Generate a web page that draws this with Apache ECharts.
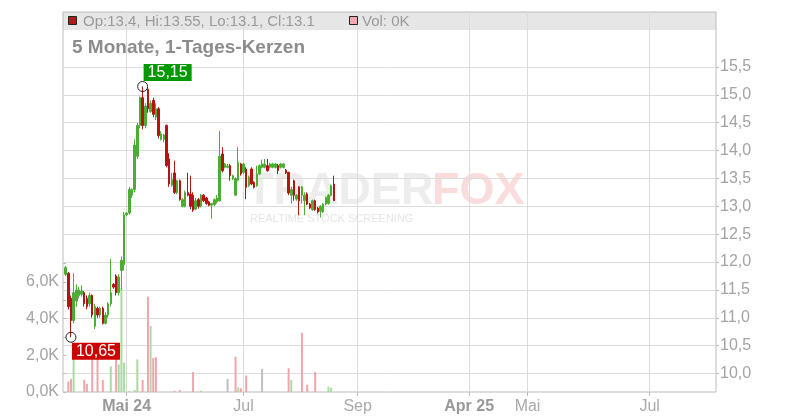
<!DOCTYPE html>
<html><head><meta charset="utf-8">
<script src="https://cdn.jsdelivr.net/npm/echarts@6/dist/echarts.min.js"></script>
<style>html,body{margin:0;padding:0;background:#fff}#c{width:800px;height:420px}</style>
</head><body><div id="c"></div>
<script>
// ---- data ----
const categoryCount = 247;                       // trading-day slots on the x axis
const tickIndex = [24, 68, 111, 153, 175, 221];
const tickText  = ['Mai 24', 'Jul', 'Sep', 'Apr 25', 'Mai', 'Jul'];
const tickBold  = [true, false, false, true, false, false];

// [open, close, low, high]
const ohlc = [
 [11.78,11.9,11.75,11.93],[11.8,11.2,11.15,11.82],[11.35,10.95,10.65,11.4],[10.95,11.45,10.9,11.8],
 [11.3,11.5,11.2,11.6],[11.4,11.5,11.35,11.55],[11.42,11.48,11.38,11.58],[11.45,11.25,11.2,11.48],
 [11.35,11.2,11.15,11.4],[11.25,11.4,11.2,11.45],[11.4,11.05,11.0,11.42],[10.85,11.2,10.8,11.25],
 [11.17,11.05,11.0,11.2],[11.05,11.17,11.0,11.2],[11.17,10.9,10.88,11.2],[10.9,11.05,10.88,11.1],
 [11.05,11.25,11.0,11.28],[11.25,11.45,11.2,12.05],[11.6,11.55,11.52,11.62],[11.75,11.45,11.4,11.78],
 [11.45,11.73,11.4,11.78],[11.85,12.03,11.5,12.1],[11.95,12.85,11.85,12.9],[12.85,12.88,12.82,12.9],
 [12.88,13.3,12.85,13.35],[13.2,13.3,13.15,13.32],[13.3,14.1,13.25,14.2],[13.9,14.45,13.85,14.5],
 [14.45,14.95,14.4,14.97],[14.95,14.45,14.38,15.15],[14.45,14.8,14.4,14.85],[15.1,14.75,14.68,15.12],
 [14.7,14.85,14.68,14.9],[14.9,14.65,14.6,14.95],[14.6,14.75,14.55,14.85],[14.75,14.27,14.22,14.78],
 [14.2,14.3,14.18,14.35],[14.2,14.28,14.15,14.3],[14.45,13.73,13.7,14.47],[13.85,13.4,13.35,13.95],
 [13.38,13.48,13.35,13.6],[13.6,13.25,13.22,13.82],[13.25,13.46,13.22,13.48],[13.46,13.12,13.1,13.48],
 [13.0,13.12,12.98,13.15],[13.0,13.25,12.98,13.28],[13.25,13.2,13.18,13.6],[13.22,13.0,12.95,13.55],
 [13.2,12.93,12.9,13.25],[12.95,13.1,12.93,13.15],[13.12,13.0,12.96,13.15],[13.0,13.2,12.98,13.22],
 [13.2,13.1,13.08,13.22],[13.15,13.05,13.03,13.17],[13.08,13.02,13.0,13.1],[13.02,13.05,12.78,13.06],
 [13.03,13.12,13.0,13.14],[13.08,13.15,13.05,13.2],[13.1,13.9,13.08,14.35],[13.94,13.64,13.61,14.06],
 [13.7,13.76,13.68,13.78],[13.7,13.72,13.68,13.76],[13.73,13.55,13.46,13.76],[13.49,13.55,13.47,13.57],
 [13.2,13.5,13.19,13.52],[13.47,13.79,13.45,14.06],[13.76,13.58,13.55,13.78],[13.61,13.76,13.58,13.78],
 [13.67,13.34,13.13,13.7],[13.37,13.52,13.35,13.55],[13.67,13.4,13.38,13.7],[13.43,13.34,13.32,13.45],
 [13.37,13.58,13.35,13.73],[13.58,13.73,13.56,13.75],[13.7,13.76,13.68,13.84],[13.7,13.76,13.68,13.85],
 [13.73,13.64,13.62,13.85],[13.7,13.76,13.68,13.78],[13.7,13.76,13.68,13.78],[13.7,13.76,13.68,13.78],
 [13.73,13.64,13.58,13.76],[13.7,13.76,13.68,13.78],[13.7,13.76,13.68,13.78],[13.65,13.6,13.58,13.67],
 [13.61,13.24,13.2,13.62],[13.2,13.3,13.05,13.35],[13.46,13.2,13.1,13.48],[13.13,13.2,13.1,13.22],
 [13.35,13.1,12.84,13.36],[13.2,13.35,13.05,13.36],[13.1,13.2,12.84,13.25],[13.22,13.04,13.02,13.25],
 [13.04,12.97,12.95,13.06],[12.94,13.1,12.92,13.12],[13.1,12.94,12.92,13.12],[12.97,12.9,12.87,12.99],
 [12.91,13.0,12.8,13.02],[12.9,13.04,12.88,13.06],[13.04,13.16,13.02,13.18],[13.05,13.2,13.03,13.22],
 [13.2,13.37,13.18,13.39],[13.4,13.1,13.1,13.55]
];

// volume in thousands, one per candle
const volumesK = [
 0,0.57,0.71,1.78,0,0,0,0.66,0.45,0,
 1.9,0,1.9,0,0.66,0,0,1.4,0,1.9,
 1.5,5.66,1.6,0,0.05,0,0.1,1.78,0,0.66,
 0,5.2,3.6,1.85,1.9,0,0,0,0,0,
 0,0.07,0,0.1,0,0,0,0,1.09,0,
 0,0.07,0,0,0,0,0,0,0,0,
 0,0.71,0,0,1.93,0.25,0.2,0,0.9,0,
 0,0,0,0,1.25,0,0,0,0,0,
 0,0,0,0,1.3,0.66,0,0,0,3.23,
 0,0.4,0,0,1.09,0,0,0,0,0.29,
 0.23,0
];
// 1 = up, -1 = down, 0 = unchanged
const volumeDir = [
 1,-1,-1,1,1,1,1,-1,-1,1,
 -1,1,-1,1,-1,1,1,1,-1,-1,
 1,1,1,1,1,1,1,1,1,-1,
 1,-1,1,-1,-1,-1,1,1,-1,-1,
 1,-1,1,-1,1,1,-1,-1,-1,1,
 -1,1,-1,-1,-1,1,1,1,1,-1,
 1,0,-1,1,-1,1,-1,1,-1,1,
 -1,-1,1,1,0,1,-1,1,1,1,
 -1,1,1,-1,-1,1,-1,1,-1,-1,
 1,-1,-1,1,-1,-1,1,1,1,1,
 1,-1
];

const priceMin = 10, priceMax = 15.5, priceStep = 0.5;
const volMin = 0, volMax = 7000, volStep = 1000, volLabelMax = 6000;
const extremeIdx   = [2, 29];
const extremePrice = [10.65, 15.15];
const extremeText  = ['10,65', '15,15'];
const headerOHLC = 'Op:13.4, Hi:13.55, Lo:13.1, Cl:13.1';
const headerVol  = 'Vol: 0K';
const titleText  = '5 Monate, 1-Tages-Kerzen';

// ---- chart ----
const FONT = '"Liberation Sans", Arial, sans-serif';
const cats = Array.from({length: categoryCount}, (_, i) => String(i));
const fmt = (v, d) => v.toFixed(d).replace('.', ',');
const isTick = (i) => tickIndex.indexOf(i) >= 0;
const UP = '#4cac36', DOWN = '#b41414';
const volColor = (d) => d > 0 ? '#a9dba1' : (d < 0 ? '#f0a5ad' : '#bfbfbf');
const L = 63, R = 84;

const chart = echarts.init(document.getElementById('c'));
chart.setOption({
  animation: false,
  textStyle: {fontFamily: FONT},
  grid: [
    {left: L, right: R, top: 12, bottom: 28, show: true, borderColor: '#bcbcbc', borderWidth: 1},
    {left: L, right: R, top: 67, bottom: 46.5},
    {left: L, right: R, top: 263.7, bottom: 28}
  ],
  xAxis: [
    {gridIndex: 0, type: 'category', data: cats, boundaryGap: false,
     axisLine: {show: false},
     axisTick: {show: true, length: 4, interval: (i) => isTick(i), lineStyle: {color: '#bcbcbc'}},
     axisLabel: {interval: (i) => isTick(i), margin: 7, hideOverlap: false,
       formatter: (v, i) => { const k = tickIndex.indexOf(i); if (k < 0) return '';
         return (tickBold[k] ? '{b|' : '{n|') + tickText[k] + '}'; },
       rich: {b: {fontWeight: 'bold', fontSize: 16, color: '#999', fontFamily: FONT},
              n: {fontSize: 16, color: '#aaa', fontFamily: FONT}}},
     splitLine: {show: true, interval: (i) => isTick(i), lineStyle: {color: '#dcdcdc'}}},
    {gridIndex: 1, type: 'category', data: cats, boundaryGap: false, show: false},
    {gridIndex: 2, type: 'category', data: cats, boundaryGap: false, show: false}
  ],
  yAxis: [
    {gridIndex: 0, type: 'value', show: false},
    {gridIndex: 1, type: 'value', position: 'right', min: priceMin, max: priceMax, interval: priceStep,
     axisLine: {show: false},
     axisTick: {show: true, length: 3, lineStyle: {color: '#bcbcbc'}},
     axisLabel: {formatter: (v) => fmt(v, 1), color: '#a3a3a3', fontSize: 16, margin: 4, padding: [3, 0, 0, 0]},
     splitLine: {show: true, lineStyle: {color: '#dcdcdc'}}},
    {gridIndex: 2, type: 'value', position: 'left', min: volMin, max: volMax, interval: volStep,
     axisLine: {show: false},
     axisTick: {show: true, inside: true, length: 3, lineStyle: {color: '#bcbcbc'}},
     axisLabel: {formatter: (v) => (v % 2000 === 0 && v <= volLabelMax) ? fmt(v / 1000, 1) + 'K' : '',
                 color: '#a3a3a3', fontSize: 16, margin: 4, padding: [3, 0, 0, 0]},
     splitLine: {show: false}}
  ],
  series: [
    {type: 'bar', xAxisIndex: 2, yAxisIndex: 2, barWidth: 2, z: 2,
     data: volumesK.map((v, i) => ({value: [i + 1, v * 1000], itemStyle: {color: volColor(volumeDir[i])}}))},
    {type: 'candlestick', xAxisIndex: 1, yAxisIndex: 1, barWidth: 2, z: 3,
     encode: {x: 0, y: [1, 2, 3, 4]},
     data: ohlc.map((d, i) => [i + 1, d[0], d[1], d[2], d[3]]),
     itemStyle: {color: UP, color0: DOWN, borderColor: UP, borderColor0: DOWN, borderWidth: 1},
     markPoint: {
       symbol: 'circle', symbolSize: 10, silent: true,
       itemStyle: {color: 'rgba(0,0,0,0)', borderColor: '#222', borderWidth: 1},
       data: [
         {coord: [extremeIdx[0] + 1, extremePrice[0]], value: extremeText[0],
          label: {show: true, formatter: extremeText[0], position: 'inside', offset: [25, 14],
                  backgroundColor: '#cc0000', color: '#fff', fontSize: 16, padding: [1, 4, 0, 4], fontFamily: FONT}},
         {coord: [extremeIdx[1] + 1, extremePrice[1]], value: extremeText[1],
          label: {show: true, formatter: extremeText[1], position: 'inside', offset: [25, -14],
                  backgroundColor: '#009900', color: '#fff', fontSize: 16, padding: [1, 4, 0, 4], fontFamily: FONT}}
       ]
     }}
  ],
  graphic: [
    {type: 'rect', z: -1, silent: true, shape: {x: 63, y: 12, width: 653, height: 18}, style: {fill: '#e6e6e6'}},
    {type: 'rect', z: 10, silent: true, shape: {x: 68.5, y: 16.5, width: 8, height: 8}, style: {fill: '#b51a1a', stroke: '#222', lineWidth: 1}},
    {type: 'text', z: 10, silent: true, x: 83, y: 21.5, style: {text: headerOHLC, fill: '#9a9a9a', font: '15px ' + FONT, verticalAlign: 'middle'}},
    {type: 'rect', z: 10, silent: true, shape: {x: 349.5, y: 16.5, width: 8, height: 8}, style: {fill: '#f2a9b0', stroke: '#222', lineWidth: 1}},
    {type: 'text', z: 10, silent: true, x: 362, y: 21.5, style: {text: headerVol, fill: '#9a9a9a', font: '15px ' + FONT, verticalAlign: 'middle'}},
    {type: 'text', z: 10, silent: true, x: 72, y: 47.5, style: {text: titleText, fill: '#8c8c8c', font: 'bold 19px ' + FONT, verticalAlign: 'middle'}},
    {type: 'text', z: -1, silent: true, x: 246, y: 192, style: {text: 'TRADER', fill: '#ededed', font: 'bold 45px ' + FONT, verticalAlign: 'middle'}},
    {type: 'text', z: -1, silent: true, x: 432, y: 192, style: {text: 'FOX', fill: '#fbdcdc', font: 'bold 45px ' + FONT, verticalAlign: 'middle'}},
    {type: 'text', z: -1, silent: true, x: 250, y: 219, style: {text: 'REALTIME STOCK SCREENING', fill: '#e6e6e6', font: '11px ' + FONT, verticalAlign: 'middle'}}
  ]
});
</script></body></html>
